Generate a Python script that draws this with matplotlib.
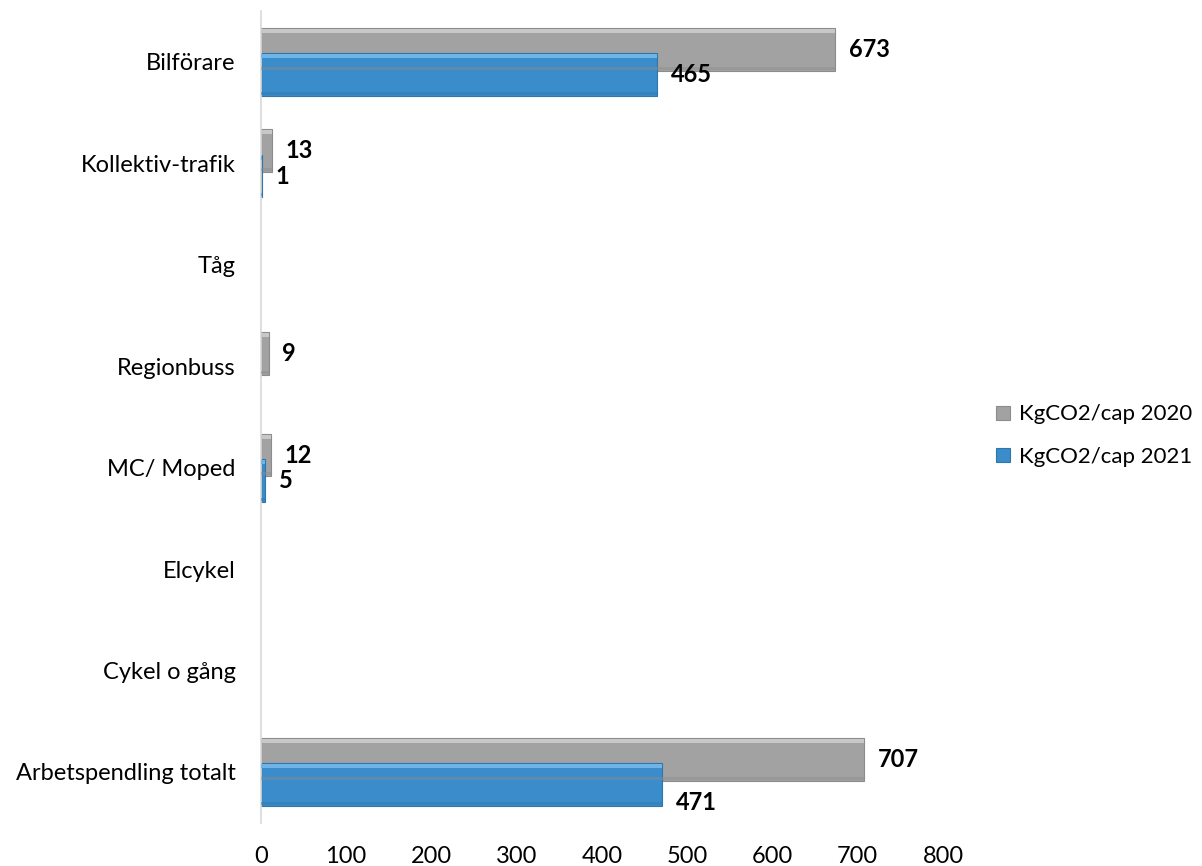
import matplotlib.pyplot as plt
import numpy as np

# kg CO2 per capita for commuting, by mode of travel
categories = ['Bilförare', 'Kollektiv-trafik', 'Tåg', 'Regionbuss', 'MC/ Moped',
              'Elcykel', 'Cykel o gång', 'Arbetspendling totalt']
kg_2020 = [673, 13, np.nan, 9, 12, np.nan, np.nan, 707]
kg_2021 = [465, 1, np.nan, np.nan, 5, np.nan, np.nan, 471]
series_names = ['KgCO2/cap 2020', 'KgCO2/cap 2021']
xticks = [0, 100, 200, 300, 400, 500, 600, 700, 800]

plt.rcParams['font.family'] = ['Lato', 'DejaVu Sans']

fig = plt.figure(figsize=(12.02, 8.66), dpi=100)
ax = fig.add_axes([0.217, 0.050, 0.5675, 0.937])

y = np.arange(len(categories))
h = 0.42
offsets = [-0.125, 0.125]
base_cols = ['#a2a2a2', '#3b8cca']
light_cols = ['#c8c8c8', '#6fb4e6']
dark_cols = ['#8c8c8c', '#2f76ad']

for k, (vals, off, c, lc, dc, name) in enumerate(zip([kg_2020, kg_2021], offsets,
                                                     base_cols, light_cols,
                                                     dark_cols, series_names)):
    vals = np.array(vals, dtype=float)
    pos = y + off
    ax.barh(pos, vals, height=h, color=c, edgecolor=dc, linewidth=0.8,
            label=name, zorder=2)
    # bevel: light strip along the top, soft shade along the bottom
    ax.barh(pos - h / 2 + 0.03, vals, height=0.04, color=lc, linewidth=0, zorder=3)
    ax.barh(pos + h / 2 - 0.025, vals, height=0.03, color=dc, alpha=0.45,
            linewidth=0, zorder=3)
    for i, (v, p) in enumerate(zip(vals, pos)):
        if np.isnan(v):
            continue
        # the total's 2021 label sits a little below its bar
        dy = -13 if (k == 1 and i == len(categories) - 1) else 0
        ax.annotate(f'{v:.0f}', (v, p), xytext=(10, dy), textcoords='offset points',
                    ha='left', va='center', fontsize=17, fontweight='bold',
                    color='black')

ax.set_xlim(0, 800)
ax.set_ylim(len(categories) - 0.5, -0.5)
ax.set_yticks(y)
ax.set_yticklabels(categories, fontsize=17)
ax.set_xticks(xticks)
ax.set_xticklabels([str(t) for t in xticks], fontsize=17)
ax.tick_params(axis='y', length=0, pad=18)
ax.tick_params(axis='x', length=0, pad=17)
for s in ['top', 'right', 'bottom']:
    ax.spines[s].set_visible(False)
ax.spines['left'].set_color('#d9d9d9')
ax.spines['left'].set_linewidth(1.2)

fig.legend(loc='center left', bbox_to_anchor=(0.829, 0.497), frameon=False,
           fontsize=16, handlelength=0.6, handleheight=0.6, handletextpad=0.4,
           labelspacing=1.0, borderaxespad=0, borderpad=0)

fig.savefig('out.png', dpi=100)
